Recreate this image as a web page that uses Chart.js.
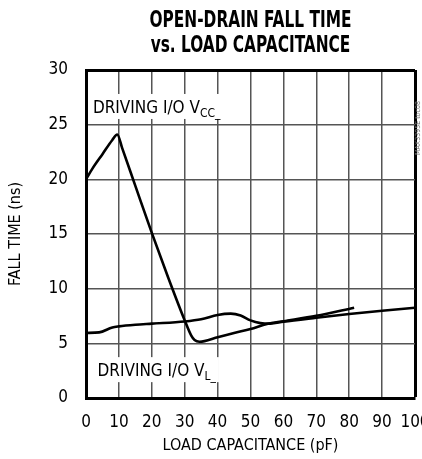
<!DOCTYPE html>
<html>
<head>
<meta charset="utf-8">
<script src="https://cdn.jsdelivr.net/npm/chart.js@4.4.0/dist/chart.umd.min.js"></script>
<style>
html, body { margin: 0; padding: 0; background: #fff; }
</style>
</head>
<body>
<canvas id="chart" width="422" height="459"></canvas>
<script>
var FONT = "'Liberation Sans Narrow', 'DejaVu Sans Condensed', sans-serif";

// data
var titleLines = ['OPEN-DRAIN FALL TIME', 'vs. LOAD CAPACITANCE'];
var xTitle = 'LOAD CAPACITANCE (pF)';
var yTitle = 'FALL TIME (ns)';

var vccCap  = [0, 2, 5, 8, 9.5, 11, 15, 20, 25, 30, 32, 33, 34.5, 36, 40, 45, 50, 55, 60, 70, 81.5];
var vccFall = [20, 21.0, 22.3, 23.6, 24.1, 22.85, 19.4, 15.1, 11.0, 7.1, 5.7, 5.3, 5.15, 5.2, 5.55, 5.95, 6.3, 6.77, 7.02, 7.52, 8.26];

var vlCap  = [0, 4, 8, 10, 15, 20, 30, 35, 40, 44, 47, 50, 53, 56, 60, 70, 80, 90, 100];
var vlFall = [5.95, 6.0, 6.45, 6.55, 6.7, 6.8, 7.0, 7.2, 7.6, 7.72, 7.55, 7.1, 6.85, 6.8, 6.98, 7.34, 7.68, 7.98, 8.26];

var vccLabel = { main: 'DRIVING I/O V', sub: 'CC_', x: 2.1, y: 26.07 };
var vlLabel  = { main: 'DRIVING I/O V', sub: 'L_', x: 3.5, y: 2.0 };
var sideNote = 'MAX3395E toc08';

function pts(xs, ys) {
  return xs.map(function (x, i) { return { x: x, y: ys[i] }; });
}

function drawLabel(ctx, lab, px, py) {
  ctx.font = '17px ' + FONT;
  var w1 = ctx.measureText(lab.main).width;
  ctx.font = '12px ' + FONT;
  var w2 = ctx.measureText(lab.sub).width;
  ctx.fillStyle = '#fff';
  ctx.fillRect(px - 3, py - 19, w1 + w2 + 6, 25);
  ctx.fillStyle = '#000';
  ctx.font = '17px ' + FONT;
  ctx.fillText(lab.main, px, py);
  ctx.font = '12px ' + FONT;
  ctx.fillText(lab.sub, px + w1, py + 4);
}

var textPlugin = {
  id: 'texts',
  beforeDatasetsDraw: function (chart) {
    var ctx = chart.ctx, xs = chart.scales.x, ys = chart.scales.y;
    ctx.save();
    ctx.textAlign = 'left';
    ctx.textBaseline = 'alphabetic';
    drawLabel(ctx, vccLabel, xs.getPixelForValue(vccLabel.x), ys.getPixelForValue(vccLabel.y));
    drawLabel(ctx, vlLabel, xs.getPixelForValue(vlLabel.x), ys.getPixelForValue(vlLabel.y));
    ctx.restore();
  },
  afterDraw: function (chart) {
    var ctx = chart.ctx, a = chart.chartArea;
    ctx.save();
    ctx.fillStyle = '#000';
    ctx.textAlign = 'center';
    ctx.textBaseline = 'alphabetic';
    ctx.font = 'bold 23px ' + FONT;
    // squeeze the heavy title to the condensed width of the original
    var sx = 202 / ctx.measureText(titleLines[0]).width;
    var cx = (a.left + a.right) / 2;
    ctx.save();
    ctx.translate(cx, 0);
    ctx.scale(sx, 1);
    ctx.fillText(titleLines[0], 0, 27);
    ctx.fillText(titleLines[1], 0, 52);
    ctx.restore();

    ctx.translate(420, 128);
    ctx.rotate(-Math.PI / 2);
    ctx.font = '7px ' + FONT;
    ctx.fillStyle = '#777';
    ctx.fillText(sideNote, 0, 0);
    ctx.restore();
  }
};

var ctxc = document.getElementById('chart');

var fallChart = new Chart(ctxc, {
  type: 'line',
  data: {
    datasets: [{
      label: 'VCC',
      data: pts(vccCap, vccFall),
      borderColor: '#000',
      borderWidth: 2.6,
      pointRadius: 0,
      fill: false,
      cubicInterpolationMode: 'monotone'
    }, {
      label: 'VL',
      data: pts(vlCap, vlFall),
      borderColor: '#000',
      borderWidth: 2.6,
      pointRadius: 0,
      fill: false,
      cubicInterpolationMode: 'monotone'
    }]
  },
  options: {
    responsive: false,
    animation: false,
    layout: { padding: { top: 70, right: 7, bottom: 0, left: 0 } },
    plugins: {
      legend: { display: false },
      tooltip: { enabled: false },
      title: { display: false }
    },
    scales: {
      x: {
        type: 'linear',
        min: 0, max: 100,
        ticks: { stepSize: 10, padding: 14, color: '#000', maxRotation: 0, autoSkip: false,
                 font: { family: FONT, size: 17 } },
        grid: {
          drawTicks: false,
          color: function (c) { return c.tick && c.tick.value === 100 ? '#000' : '#555'; },
          lineWidth: function (c) { return c.tick && c.tick.value === 100 ? 3 : 1.5; }
        },
        border: { display: true, color: '#000', width: 3 },
        title: { display: true, text: xTitle, color: '#000',
                 font: { family: FONT, size: 16 }, padding: { top: 0, bottom: 4 } },
        afterFit: function (s) { s.height = 61; s.paddingLeft = 0; s.paddingRight = 0; }
      },
      y: {
        min: 0, max: 30,
        ticks: { stepSize: 5, padding: 18, color: '#000',
                 font: { family: FONT, size: 17 } },
        grid: {
          drawTicks: false,
          color: function (c) { return c.tick && c.tick.value === 30 ? '#000' : '#555'; },
          lineWidth: function (c) { return c.tick && c.tick.value === 30 ? 3 : 1.5; }
        },
        border: { display: true, color: '#000', width: 3 },
        title: { display: true, text: yTitle, color: '#000',
                 font: { family: FONT, size: 16 }, padding: { top: 6, bottom: 0 } },
        afterFit: function (s) { s.width = 86; s.paddingTop = 0; s.paddingBottom = 0; }
      }
    }
  },
  plugins: [textPlugin]
});
</script>
</body>
</html>
